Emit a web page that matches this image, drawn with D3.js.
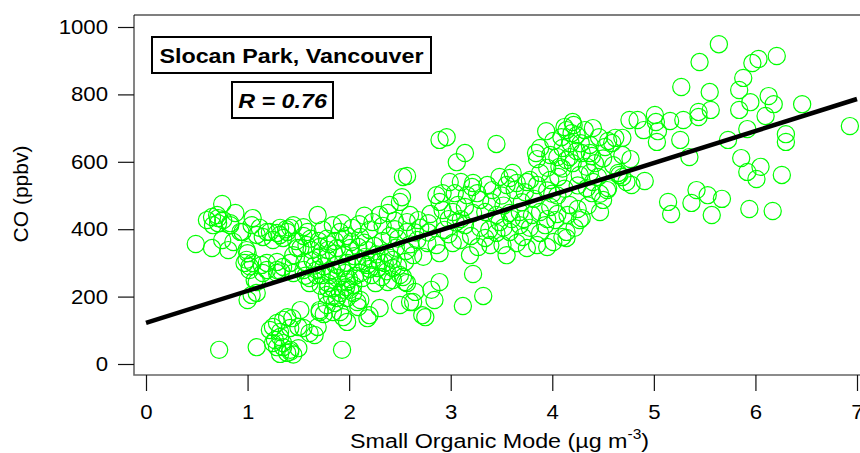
<!DOCTYPE html>
<html>
<head>
<meta charset="utf-8">
<script src="https://cdn.jsdelivr.net/npm/d3@7"></script>
<style>
  html, body { margin: 0; padding: 0; background: #fff; }
  svg { display: block; font-family: "Liberation Sans", Arial, Helvetica, sans-serif; }
</style>
</head>
<body>
<svg id="chart" width="860" height="453"></svg>
<script>
// Hourly samples: [small organic mode (µg m-3), CO (ppbv)]
const samples = [
  [0.49,356],[0.65,344],[0.81,338],[0.75,368],[0.86,362],[0.99,338],[0.72,42],[1.09,50],[1.93,42],
  [0.71,433],[0.65,436],[0.70,442],[0.75,475],[0.76,427],[0.83,418],[0.88,448],[0.60,427],[0.66,412],
  [0.71,418],[0.83,412],[0.93,392],[1.04,412],[1.05,433],[1.12,404],[1.09,383],[1.15,377],[1.19,392],
  [1.25,368],[1.29,389],[1.32,404],[1.39,392],[1.42,404],[1.45,412],[1.35,374],[1.49,344],[0.95,392],
  [1.22,392],[1.32,383],[1.38,400],[1.55,406],[1.59,392],[1.69,442],[1.74,398],[1.84,412],[1.93,418],
  [2.03,404],[1.91,392],[2.11,377],[2.20,398],[2.23,421],[2.30,442],[2.38,448],[2.40,472],[2.50,481],
  [2.53,555],[2.52,495],[2.57,421],
  [0.97,300],[1.05,300],[1.14,294],[1.07,249],[1.09,211],[1.00,190],[1.02,290],[1.00,329],[1.19,279],
  [1.29,270],[1.35,288],[1.42,300],[1.45,270],[1.29,303],[1.33,275],[1.45,323],[1.52,344],[1.58,353],
  [1.63,338],[1.71,347],[1.79,338],[1.88,344],[2.01,344],[2.09,347],[2.18,338],[1.56,303],[1.64,308],
  [1.78,315],[1.88,294],[1.98,300],[2.08,303],[2.18,294],[2.22,264],[2.30,303],[2.40,315],[2.43,285],
  [2.50,264],[2.55,243],[1.61,255],[1.68,264],[1.81,264],[1.88,255],[1.98,243],[2.04,234],[2.13,255],
  [1.84,225],[1.94,220],[2.01,220],[1.78,205],[1.88,196],[1.98,196],[2.08,184],[1.78,175],[1.84,154],
  [1.71,154],[1.91,154],[1.98,125],[2.18,136],[2.20,145],[2.30,166],[2.50,175],[2.60,184],
  [1.29,50],[1.39,33],[1.45,28],[1.32,30],[1.42,42],[1.50,47],[1.35,62],[1.27,71],[1.25,110],[1.35,131],
  [1.22,101],[1.32,95],[1.42,107],[1.50,110],[1.52,160],[1.44,136],[1.55,107],[1.61,92],[1.66,86],
  [1.69,110],[1.71,160],[1.75,148],[1.86,181],[1.94,139],[1.83,200],[1.91,211],[1.97,228],[2.04,211],
  [2.11,190],[2.09,169],[2.38,243],[2.43,249],[2.32,258],[1.79,225],[1.79,240],[1.73,264],[1.61,240],
  [1.57,262],[1.55,279],[1.68,279],[1.83,279],[1.93,285],[2.11,270],[2.14,298],[2.23,309],[2.35,300],
  [2.43,309],[1.04,205],[1.09,243],[1.02,279],[1.19,300],[1.29,279],[0.99,309],[1.15,270],
  [1.29,122],[1.32,80],[1.25,62],[1.35,50],[1.42,36],[1.39,139],
  [1.62,372],[1.70,365],[1.78,372],[1.86,365],[1.95,372],[2.02,362],[2.15,360],[2.25,350],[2.33,365],
  [2.40,380],[2.48,372],[2.46,345],[2.36,330],[2.27,325],[2.16,318],[2.05,320],[1.95,325],[1.85,328],
  [1.72,320],[1.66,292],[1.75,290],[1.96,270],[2.06,262],[2.20,282],[2.28,285],[2.37,275],[2.48,290],
  [2.56,335],[2.60,355],[2.65,390],[2.45,400],[2.33,410],[2.10,415],[2.15,440],[2.45,425],[1.98,380],
  [1.80,355],[1.55,380],[1.48,365],[2.26,240],[2.00,252],[1.72,232],
  [2.96,673],[2.89,665],[3.14,626],[3.06,599],[3.45,653],[2.57,558],[3.94,691],[4.20,718],[4.14,694],
  [4.24,679],[4.09,673],[4.46,673],[4.55,662],[4.62,671],[4.52,644],[3.84,626],[3.88,641],[4.10,641],
  [4.17,614],[4.29,626],[4.76,724],[4.69,620],[3.95,582],[4.07,585],[4.20,596],[4.42,596],[3.98,546],
  [4.06,555],[4.27,561],[4.37,567],[4.65,567],[4.73,540],[3.58,552],[3.65,537],[3.55,531],[3.75,540],
  [3.85,531],[3.73,510],[3.63,516],[3.21,525],[3.26,507],[3.41,516],[3.29,487],[3.16,501],[3.04,507],
  [2.86,501],[2.89,481],[2.92,457],[2.60,442],[2.68,427],[2.78,418],[3.02,451],[3.07,472],[3.14,466],
  [3.22,448],[3.34,451],[3.45,442],[3.58,448],[3.68,451],[3.80,442],[3.88,451],[3.98,466],[4.17,472],
  [4.15,442],[4.29,433],[4.34,522],[4.39,507],[4.47,505],[4.50,487],[4.47,451],[4.55,522],[2.57,392],
  [2.67,368],[2.77,359],[2.86,353],[2.89,329],[2.73,318],[2.63,323],[2.55,303],[2.53,258],[2.57,240],
  [2.65,214],[2.63,184],[2.72,145],[2.75,139],[2.81,220],[2.84,190],[2.89,243],[3.22,267],[3.32,202],
  [3.12,172],[3.02,359],[3.09,368],[3.19,323],[3.27,347],[3.39,353],[3.34,374],[3.51,353],[3.55,323],
  [3.65,359],[3.71,377],[3.75,344],[3.85,353],[3.95,347],[4.01,362],[4.10,377],[4.14,392],[3.88,389],
  [3.58,392],[3.45,389],
  [2.70,404],[2.94,398],[3.14,412],[3.29,404],[3.48,421],[3.68,412],[3.93,412],[4.03,427],[3.78,404],
  [4.22,404],[3.48,555],[3.61,567],[3.78,546],[3.36,531],[3.22,537],[2.92,507],[4.01,662],[4.24,632],
  [4.37,626],[3.85,608],[4.05,614],[4.14,605],[4.34,585],[3.88,567],
  [2.78,390],[2.98,385],[3.05,420],[3.20,380],[3.38,398],[3.52,405],[3.60,430],[3.72,430],[3.95,430],
  [4.05,445],[4.25,460],[4.35,470],[4.05,500],[3.95,515],[3.82,490],[3.70,480],[3.52,470],[3.40,480],
  [3.10,430],[2.98,430],[2.80,445],[4.40,540],[4.25,530],[4.12,520],[4.00,505],[3.50,500],[3.10,540],
  [2.99,540],[4.28,655],[4.40,700],[4.18,655],[4.50,610],[4.60,590],[3.98,620],[4.10,580],
  [5.64,949],[5.45,896],[5.27,822],[5.55,807],[5.84,813],[5.88,849],[5.97,893],[6.03,905],[6.21,914],
  [6.13,795],[6.18,771],[5.95,777],[5.84,754],[6.10,736],[6.46,771],[6.93,706],[6.30,682],[6.30,659],
  [5.92,697],[5.73,665],[5.26,665],[5.56,754],[5.44,748],[5.44,733],[5.29,724],[5.16,721],[5.01,739],
  [5.02,718],[4.84,724],[4.90,694],[5.04,691],[5.03,659],[4.69,671],[4.59,656],[4.77,608],[4.91,543],
  [4.78,531],[4.69,555],[5.35,614],[5.86,611],[5.92,570],[6.05,585],[6.01,549],[6.26,561],[5.42,516],
  [5.53,501],[5.67,490],[5.37,478],[5.14,481],[5.17,445],[5.57,442],[5.94,460],[6.17,454],
  [4.21,709],[4.19,685],[4.12,703],[4.66,561],[4.37,650],[4.32,694],[4.39,617],[4.45,555],[4.54,516],
  [4.27,427],[4.14,374]
];

const xTicks = [0, 1, 2, 3, 4, 5, 6, 7];
const yTicks = [0, 200, 400, 600, 800, 1000];
const xDomain = [0, 7];
const yDomain = [0, 1000];

// Least-squares fit of CO against the organic mode
const fitIntercept = 122;
const fitSlope = 94.9;

const siteLabel = "Slocan Park, Vancouver";
const corrLabel = "R = 0.76";
const yTitle = "CO (ppbv)";
const xTitle = "Small Organic Mode (µg m";

const svg = d3.select("#chart");
const frame = { left: 134, top: 15, right: 860, bottom: 375 };
const x = d3.scaleLinear().domain(xDomain).range([146, 857]);
const y = d3.scaleLinear().domain(yDomain).range([364, 27]);
const SX = 1.11; // wide Helvetica-like lettering

// Scatter of hollow circles
svg.append("g")
  .selectAll("circle")
  .data(samples)
  .join("circle")
  .attr("cx", d => x(d[0]))
  .attr("cy", d => y(d[1]))
  .attr("r", 8.6)
  .attr("fill", "none")
  .attr("stroke", "#00ff00")
  .attr("stroke-width", 1.2);

// Regression line
const fitLine = d3.line().x(d => x(d)).y(d => y(fitIntercept + fitSlope * d));
svg.append("path")
  .attr("d", fitLine(xDomain))
  .attr("fill", "none")
  .attr("stroke", "#000")
  .attr("stroke-width", 4.5);

// Plot frame: left, bottom and top edges
svg.append("path")
  .attr("d", `M${frame.right},${frame.bottom}H${frame.left}V${frame.top}`)
  .attr("fill", "none").attr("stroke", "#666").attr("stroke-width", 1.6);
svg.append("line")
  .attr("x1", frame.left).attr("x2", frame.right)
  .attr("y1", frame.top).attr("y2", frame.top)
  .attr("stroke", "#000").attr("stroke-width", 1.2);

function styleAxis(g, size) {
  g.select(".domain").remove();
  g.selectAll(".tick line").attr("stroke", "#111").attr("stroke-width", 1.2);
  g.selectAll(".tick text")
    .attr("fill", "#000")
    .style("font-size", size + "px")
    .each(function () {
      const t = d3.select(this);
      const tx = +t.attr("x") || 0;
      t.attr("x", tx / SX).attr("transform", `scale(${SX},1)`);
    });
}

svg.append("g")
  .attr("transform", `translate(${frame.left},0)`)
  .call(d3.axisLeft(y).tickValues(yTicks).tickFormat(d3.format("d"))
    .tickSize(16).tickSizeOuter(0).tickPadding(10))
  .call(g => styleAxis(g, 20));

svg.append("g")
  .attr("transform", `translate(0,${frame.bottom})`)
  .call(d3.axisBottom(x).tickValues(xTicks).tickFormat(d3.format("d"))
    .tickSize(16).tickSizeOuter(0).tickPadding(14))
  .call(g => styleAxis(g, 20));

// Axis titles
svg.append("text")
  .attr("transform", "translate(28,194) rotate(-90)")
  .attr("text-anchor", "middle")
  .style("font-size", "21px")
  .text(yTitle);

const xt = svg.append("text")
  .attr("transform", `translate(350,448) scale(${SX},1)`)
  .style("font-size", "21px");
xt.append("tspan").text(xTitle);
xt.append("tspan").attr("dy", -9).style("font-size", "14px").text("-3");
xt.append("tspan").attr("dy", 9).text(")");

// Annotation boxes
function labelBox(x0, y0, w, h, text, italic) {
  const g = svg.append("g");
  g.append("rect")
    .attr("x", x0).attr("y", y0).attr("width", w).attr("height", h)
    .attr("fill", "#fff").attr("stroke", "#000").attr("stroke-width", 2);
  g.append("text")
    .attr("transform", `translate(${x0 + w / 2},${y0 + h / 2 + 7.5}) scale(${SX},1)`)
    .attr("text-anchor", "middle")
    .style("font-size", "21px")
    .style("font-weight", "bold")
    .style("font-style", italic ? "italic" : "normal")
    .text(text);
}
labelBox(152, 37, 279, 36, siteLabel, false);
labelBox(232, 82, 101, 36, corrLabel, true);
</script>
</body>
</html>
